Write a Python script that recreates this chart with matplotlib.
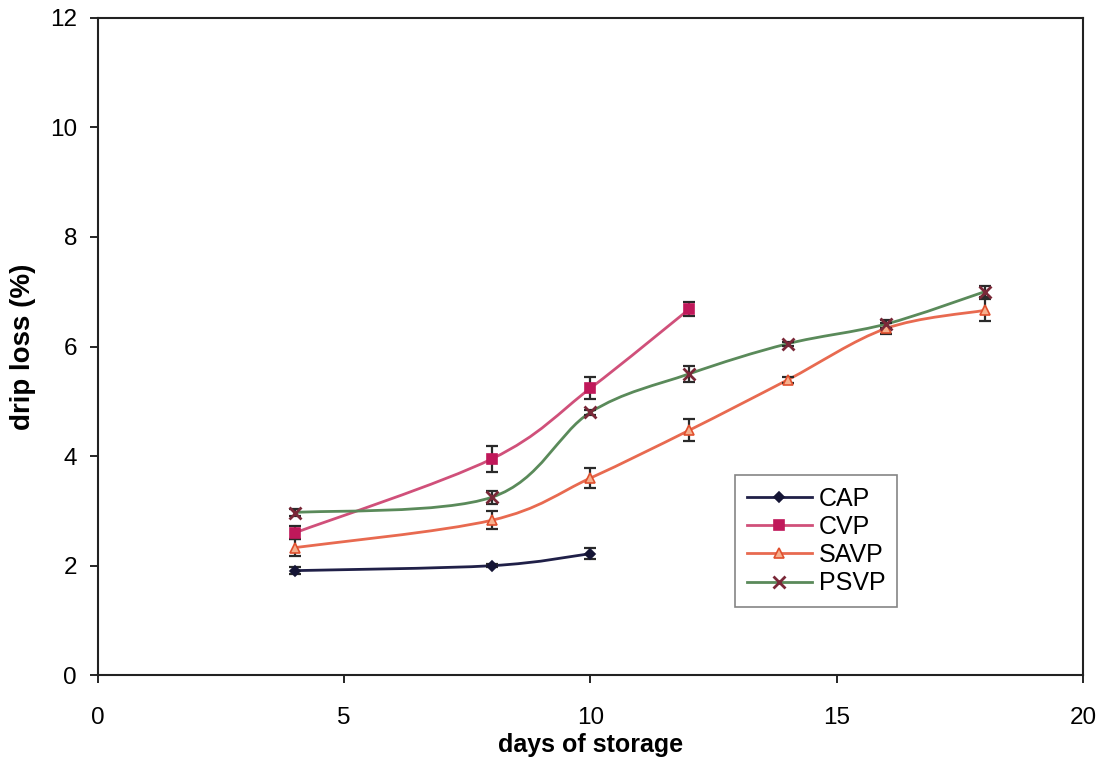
import numpy as np
import matplotlib
matplotlib.use("Agg")
import matplotlib.pyplot as plt
from matplotlib.path import Path
from matplotlib.patches import PathPatch

plt.rcParams["font.family"] = ["Liberation Sans", "DejaVu Sans"]

# drip loss (%) vs days of storage
cap_days = [4, 8, 10]
cap_loss = [1.91, 2.0, 2.22]
cap_err = [0.06, 0.03, 0.1]

cvp_days = [4, 8, 10, 12]
cvp_loss = [2.6, 3.95, 5.24, 6.68]
cvp_err = [0.12, 0.24, 0.2, 0.13]

savp_days = [4, 8, 10, 12, 14, 16, 18]
savp_loss = [2.33, 2.83, 3.6, 4.47, 5.39, 6.33, 6.66]
savp_err = [0.16, 0.16, 0.18, 0.2, 0.05, 0.1, 0.2]

psvp_days = [4, 8, 10, 12, 14, 16, 18]
psvp_loss = [2.97, 3.25, 4.8, 5.5, 6.05, 6.41, 7.0]
psvp_err = [0.06, 0.12, 0.05, 0.14, 0.04, 0.08, 0.1]

# name, x, y, err, line colour, marker, marker face, marker edge, size
series = [
    ("CAP", cap_days, cap_loss, cap_err, "#202048", "D", "#151535", "#151535", 5),
    ("CVP", cvp_days, cvp_loss, cvp_err, "#d0507a", "s", "#c0185a", "#c0185a", 6.5),
    ("SAVP", savp_days, savp_loss, savp_err, "#e86a50", "^", "#f6b08e", "#e0502e", 7),
    ("PSVP", psvp_days, psvp_loss, psvp_err, "#5a8a5a", "x", "#7a2838", "#7a2838", 9),
]


def smooth_path(xs, ys, tension=1.0 / 6):
    # Excel-style smoothed line: cubic Bezier through the points
    pts = np.column_stack([xs, ys]).astype(float)
    verts = [pts[0]]
    codes = [Path.MOVETO]
    n = len(pts)
    for i in range(n - 1):
        p0 = pts[i - 1] if i > 0 else pts[i]
        p1 = pts[i]
        p2 = pts[i + 1]
        p3 = pts[i + 2] if i + 2 < n else pts[i + 1]
        c1 = p1 + (p2 - p0) * tension
        c2 = p2 - (p3 - p1) * tension
        verts += [c1, c2, p2]
        codes += [Path.CURVE4] * 3
    return Path(verts, codes)


fig, ax = plt.subplots(figsize=(11.11, 7.7), dpi=100)
fig.subplots_adjust(left=0.088, right=0.975, bottom=0.123, top=0.977)

handles = []
for name, xs, ys, err, lc, mk, mfc, mec, ms in series:
    mew = 2 if mk == "x" else 1.2
    patch = PathPatch(smooth_path(xs, ys), facecolor="none", edgecolor=lc,
                      linewidth=2.0, transform=ax.transData, zorder=2)
    ax.add_patch(patch)
    ax.errorbar(xs, ys, yerr=err, fmt="none", ecolor="#2a2a2a",
                elinewidth=1.6, capsize=4.5, capthick=1.6, zorder=3)
    ax.plot(xs, ys, linestyle="none", marker=mk, markerfacecolor=mfc,
            markeredgecolor=mec, color=mec, markersize=ms,
            markeredgewidth=mew, zorder=4)
    h, = ax.plot([], [], color=lc, linewidth=2.0, marker=mk, markerfacecolor=mfc,
                 markeredgecolor=mec, markersize=ms, markeredgewidth=mew,
                 label=name)
    handles.append(h)

ax.set_xlim(0, 20)
ax.set_ylim(0, 12)
ax.set_xticks([0, 5, 10, 15, 20])
ax.set_yticks([0, 2, 4, 6, 8, 10, 12])
ax.tick_params(direction="out", length=6, width=1.2, labelsize=17.5, pad=9)
ax.tick_params(axis="x", pad=17)
for s in ax.spines.values():
    s.set_linewidth(1.5)
    s.set_color("#222222")

ax.set_xlabel("days of storage", fontsize=18, fontweight="bold", labelpad=3)
ax.set_ylabel("drip loss (%)", fontsize=20, fontweight="bold")
ax.yaxis.set_label_coords(-0.0625, 0.5)

leg = ax.legend(handles=handles, loc="upper left", bbox_to_anchor=(0.647, 0.304),
                fontsize=18, frameon=True, fancybox=False, handlelength=2.6,
                handletextpad=0.3, labelspacing=0.17, borderpad=0.45,
                borderaxespad=0)
leg.get_frame().set_edgecolor("#666666")
leg.get_frame().set_linewidth(1.2)

plt.savefig("out.png", dpi=100)
